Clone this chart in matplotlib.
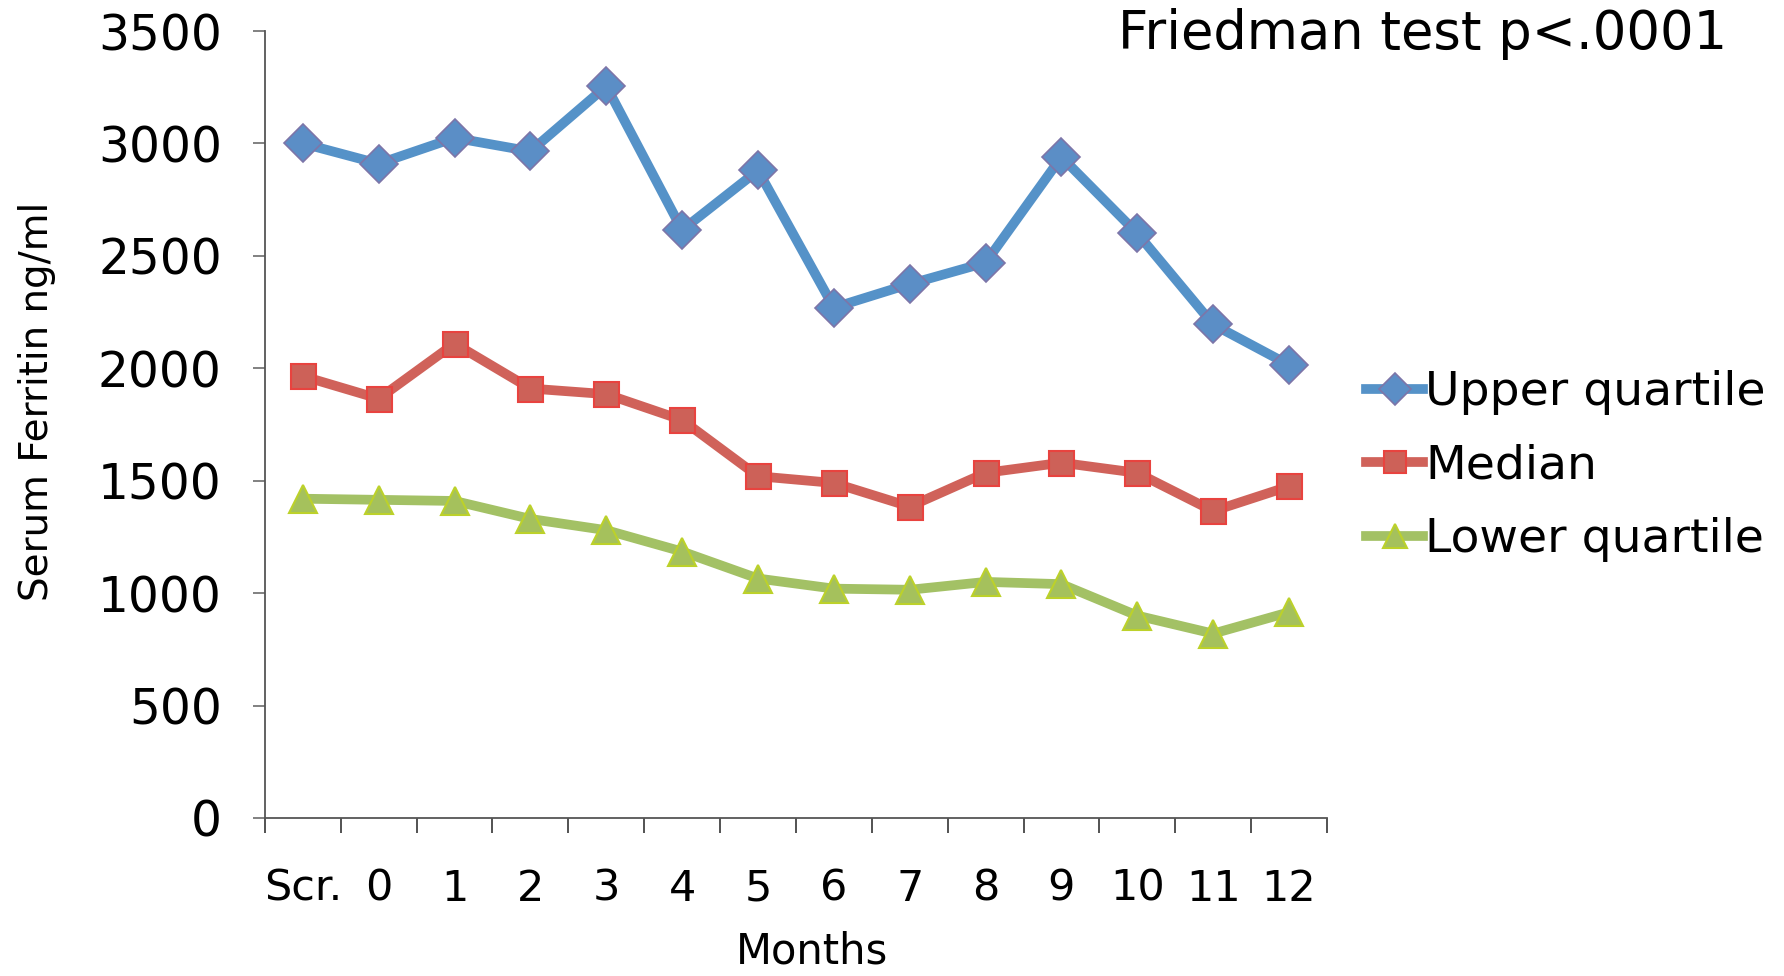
import numpy as np
import matplotlib
matplotlib.use("Agg")
import matplotlib.pyplot as plt

# serum ferritin over a year of treatment
months = ["Scr.", "0", "1", "2", "3", "4", "5", "6", "7", "8", "9", "10", "11", "12"]
upper_q = [3000, 2910, 3025, 2965, 3255, 2615, 2880, 2270, 2375, 2470, 2940, 2600, 2195, 2015]
median = [1965, 1865, 2110, 1910, 1885, 1770, 1520, 1490, 1385, 1535, 1580, 1535, 1365, 1475]
lower_q = [1420, 1415, 1410, 1330, 1280, 1185, 1065, 1020, 1015, 1050, 1040, 900, 820, 915]

plt.rcParams["font.family"] = "DejaVu Sans"

fig = plt.figure(figsize=(17.84, 9.76), dpi=100)
ax = fig.add_axes([0.1485, 0.1619, 0.5953, 0.8063])

x = np.arange(len(months))
ax.plot(x, upper_q, color="#5592C8", lw=7, marker="D", ms=19,
        mfc="#5B8EC6", mec="#7D75A8", mew=1.2, label="Upper quartile", zorder=3)
ax.plot(x, median, color="#D0625A", lw=7, marker="s", ms=18,
        mfc="#CD6158", mec="#E8433F", mew=1.5, label="Median", zorder=3)
ax.plot(x, lower_q, color="#A3C165", lw=7, marker="^", ms=20,
        mfc="#A5C15C", mec="#BCD12A", mew=1.5, label="Lower quartile", zorder=3)

ax.set_xlim(-0.5, len(months) - 0.5)
ax.set_ylim(0, 3500)
ax.set_yticks(np.arange(0, 3501, 500))
ax.set_xticks(x)
ax.set_xticklabels(months)
ax.set_xticks(np.arange(-0.5, len(months)), minor=True)

for s in ["top", "right"]:
    ax.spines[s].set_visible(False)
for s in ["left", "bottom"]:
    ax.spines[s].set_color("#555555")
    ax.spines[s].set_linewidth(1.3)

ax.tick_params(axis="y", labelsize=35, length=9, width=1.3, color="#777777", pad=22)
ax.tick_params(axis="x", which="major", labelsize=31, length=0, pad=36)
ax.tick_params(axis="x", which="minor", length=11, width=1.3, color="#444444")

ax.set_ylabel("Serum Ferritin ng/ml", fontsize=28)
ax.yaxis.set_label_coords(-0.197, 0.53)
ax.set_xlabel("Months", fontsize=30)
ax.xaxis.set_label_coords(0.515, -0.143)

fig.text(0.968, 0.965, "Friedman test p<.0001", fontsize=38, ha="right", va="center")

ax.legend(loc="center left", bbox_to_anchor=(1.006, 0.447), frameon=False,
          fontsize=34, handlelength=1.2, handletextpad=0.05, labelspacing=0.6,
          markerscale=0.85, borderaxespad=0.3)

fig.savefig("out.png", dpi=100)
